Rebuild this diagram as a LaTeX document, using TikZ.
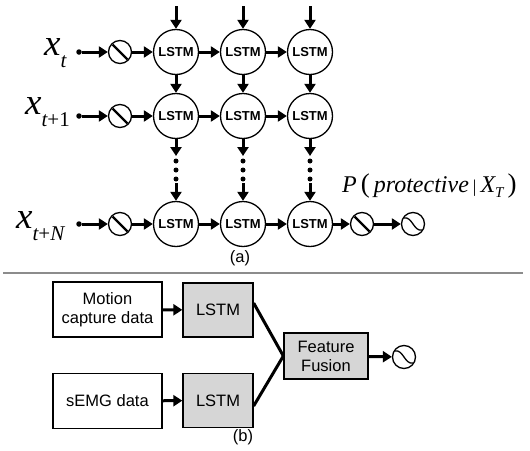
\documentclass[tikz,border=0pt]{standalone}
\usepackage{fontspec}
\setmainfont{Liberation Sans}
\newfontfamily\tnr{Liberation Serif}
\usetikzlibrary{arrows.meta}
\begin{document}
\begin{tikzpicture}[x=1pt,y=-1pt,
  lstm/.style={circle,draw,line width=1.3pt,minimum size=45pt,inner sep=0pt,font=\fontsize{13}{13}\selectfont\bfseries},
  act/.style={circle,draw,line width=1.3pt,minimum size=23pt,inner sep=0pt},
  lin/.style={act,path picture={\draw[line width=2.4pt] ([shift={(-7.5pt,7.5pt)}]path picture bounding box.center) -- ([shift={(7.5pt,-7.5pt)}]path picture bounding box.center);}},
  sig/.style={act,path picture={\draw[line width=1.3pt] ([shift={(-9pt,6pt)}]path picture bounding box.center) .. controls ([shift={(-1pt,8pt)}]path picture bounding box.center) and ([shift={(1pt,-8pt)}]path picture bounding box.center) .. ([shift={(9pt,-6pt)}]path picture bounding box.center);}},
  dotn/.style={circle,fill,inner sep=0pt,minimum size=5.5pt},
  vdot/.style={circle,fill,inner sep=0pt,minimum size=5pt},
  arr/.style={line width=3pt,-{Triangle[length=9pt,width=11pt]}},
  inbox/.style={draw,line width=1.3pt,minimum width=109pt,minimum height=55pt,align=center,inner sep=0pt,font=\fontsize{16.5}{19}\selectfont},
  gbox/.style={inbox,fill=black!16,minimum width=70pt,minimum height=54pt},
  ffbox/.style={inbox,fill=black!16,minimum width=84pt,minimum height=46pt},
  lab/.style={font=\fontsize{16.5}{16.5}\selectfont}
]
\useasboundingbox (0,0) rectangle (530,450);

% ---------- part (a) ----------
\foreach \r/\y in {1/52,2/116,3/224}{
  \foreach \c/\x in {1/176,2/243,3/310}{
    \node[lstm] (L\r\c) at (\x,\y) {LSTM};
  }
  \node[lin] (A\r) at (120,\y) {};
  \node[dotn] (D\r) at (79,\y) {};
  \draw[arr] (D\r) -- (A\r);
  \draw[arr] (A\r) -- (L\r1);
  \draw[arr] (L\r1) -- (L\r2);
  \draw[arr] (L\r2) -- (L\r3);
}
\foreach \c/\x in {1/176,2/243,3/310}{
  \coordinate (T\c) at (\x,6);
  \draw[arr] (T\c) -- (L1\c);
  \draw[arr] (L1\c) -- (L2\c);
  \coordinate (M\c) at (\x,156);
  \draw[arr] (L2\c) -- (M\c);
  \node[vdot] (Pa\c) at (\x,161) {};
  \node[vdot] (Pb\c) at (\x,170) {};
  \node[vdot] (Pc\c) at (\x,179) {};
  \coordinate (N\c) at (\x,183);
  \draw[arr] (N\c) -- (L3\c);
}
\node[lin] (O1) at (362,224) {};
\node[sig] (O2) at (413,224) {};
\draw[arr] (L33) -- (O1);
\draw[arr] (O1) -- (O2);

\node[anchor=base west,inner sep=0pt] (X1) at (44,55) {\tnr\fontsize{37}{37}\selectfont\itshape x\raisebox{-12pt}{\fontsize{21}{21}\selectfont t}};
\node[anchor=base west,inner sep=0pt] (X2) at (25,114) {\tnr\fontsize{37}{37}\selectfont\itshape x\raisebox{-12pt}{\fontsize{21}{21}\selectfont t\upshape +1}};
\node[anchor=base west,inner sep=0pt] (X3) at (16,228) {\tnr\fontsize{37}{37}\selectfont\itshape x\raisebox{-12pt}{\fontsize{21}{21}\selectfont t\upshape +\itshape N}};

\node[anchor=base west,inner sep=0pt] (PL) at (342,192) {\tnr\fontsize{24}{24}\selectfont\itshape P\,\upshape{\fontsize{27}{27}\selectfont(}\,\itshape protective\,\upshape{\fontsize{18}{18}\selectfont|}\,\itshape X\raisebox{-5pt}{\fontsize{15}{15}\selectfont T}\,\upshape{\fontsize{27}{27}\selectfont)}};

\node[lab] (la) at (240,258) {(a)};

\coordinate (S1) at (3,273);
\coordinate (S2) at (523,273);
\draw[black!45,line width=1.8pt] (S1) -- (S2);

% ---------- part (b) ----------
\node[inbox] (mo) at (107.5,309.5) {Motion\\capture data};
\node[inbox] (se) at (107.5,401) {sEMG data};
\node[gbox] (g1) at (218,310) {LSTM};
\node[gbox] (g2) at (218,400.5) {LSTM};
\node[ffbox] (ff) at (326,356) {Feature\\Fusion};
\node[sig] (o3) at (404,357) {};
\draw[arr] (mo) -- (g1);
\draw[arr] (se) -- (g2);
\draw[line width=3pt] ([yshift=7pt]g1.east) -- (ff.west);
\draw[line width=3pt] ([yshift=-5.5pt]g2.east) -- (ff.west);
\draw[arr] (ff) -- (o3);
\node[lab] (lb) at (243,437) {(b)};
\end{tikzpicture}
\end{document}
